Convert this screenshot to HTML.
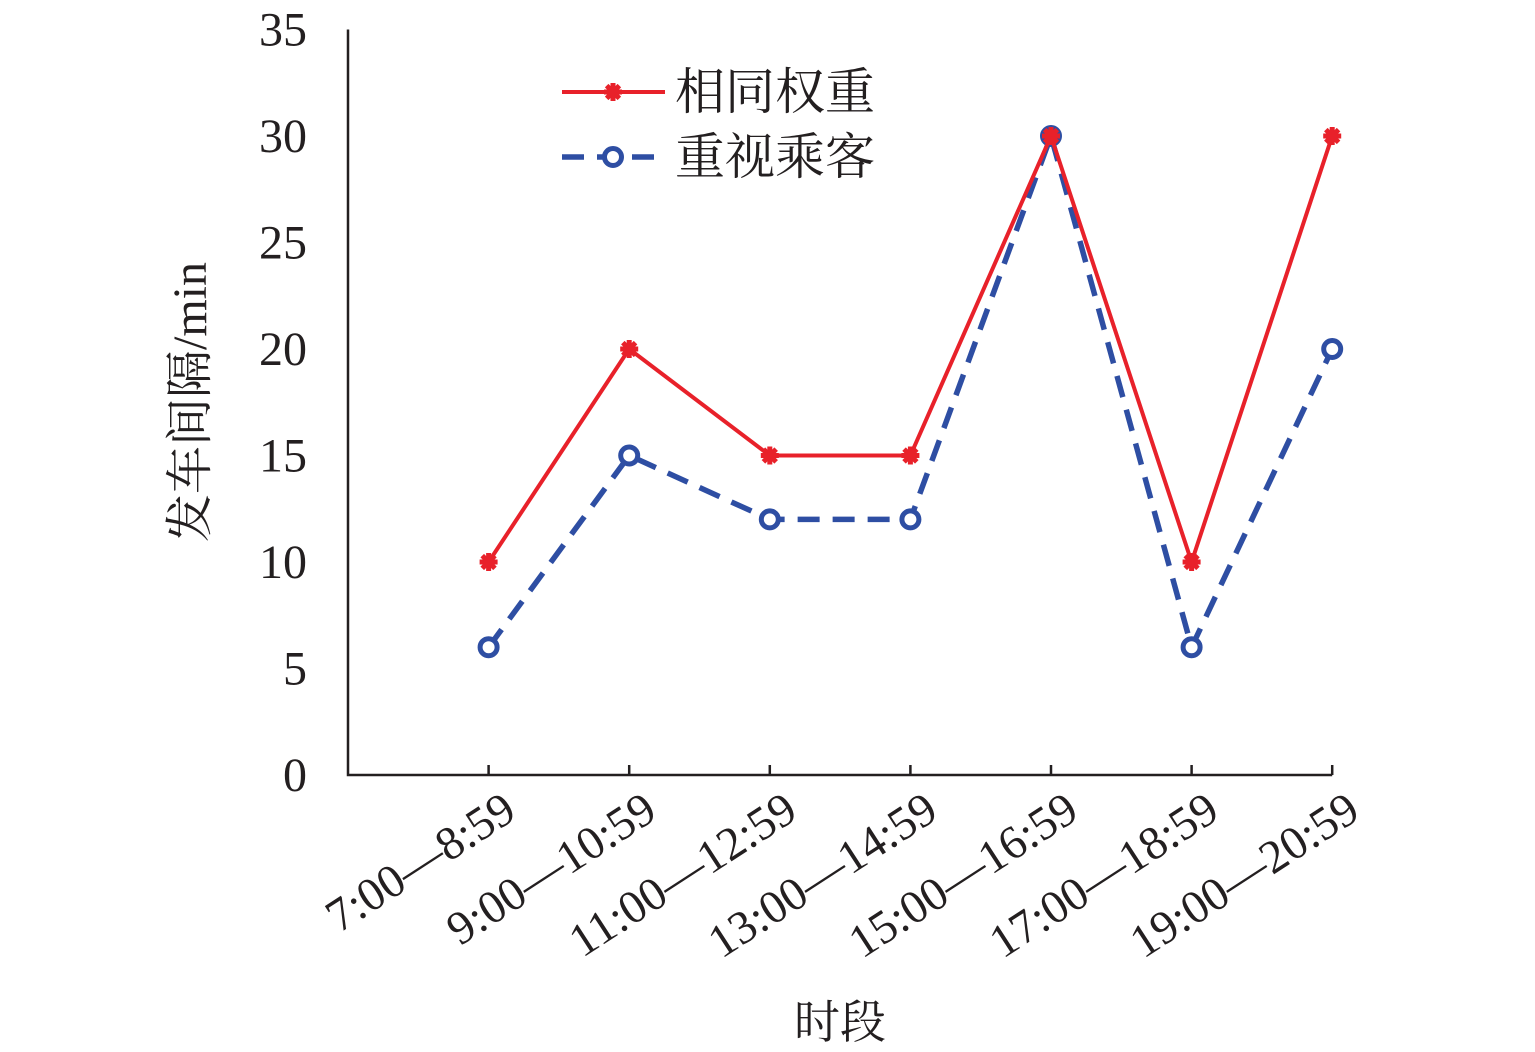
<!DOCTYPE html>
<html><head><meta charset="utf-8"><style>
body{margin:0;background:#fff}
svg text{font-family:"Liberation Serif","Noto Serif CJK SC",serif;fill:#231f20}
</style></head><body>
<svg id="c" width="1535" height="1047"></svg>
<script>
const categories=["7:00—8:59","9:00—10:59","11:00—12:59","13:00—14:59","15:00—16:59","17:00—18:59","19:00—20:59"];
const sameWeight=[10,20,15,15,30,10,30];
const passengerFocus=[6,15,12,12,30,6,20];
const yTicks=[0,5,10,15,20,25,30,35];
const NS="http://www.w3.org/2000/svg",svg=document.getElementById('c');
const x0=348,y0=775,step=140.6,pxPerUnit=21.3;
const X=i=>x0+(i+1)*step, Y=v=>y0-v*pxPerUnit;
function mk(t,a,p){const e=document.createElementNS(NS,t);for(const k in a)e.setAttribute(k,a[k]);(p||svg).appendChild(e);return e;}
let ax=mk('path',{d:`M${x0} ${Y(35)}V${y0}H${X(6)}`,fill:'none',stroke:'#231f20','stroke-width':2.5});


yTicks.forEach(v=>{let t=mk('text',{x:307,y:Y(v)+16,'text-anchor':'end','font-size':48});t.textContent=v;

});
categories.forEach((c,i)=>{let tk=mk('line',{x1:X(i),x2:X(i),y1:y0,y2:y0-10,stroke:'#231f20','stroke-width':2.5});


let t=mk('text',{transform:`translate(${X(i)+30},${y0+42}) rotate(-33)`,'text-anchor':'end','font-size':47});t.textContent=c;

});
let yt=mk('text',{transform:'translate(206,402) rotate(-90)','text-anchor':'middle','font-size':48});yt.textContent='发车间隔/min';


let xt=mk('text',{x:840,y:1038,'text-anchor':'middle','font-size':46});xt.textContent='时段';


function star(g,x,y){for(let a=0;a<180;a+=45){const r=a*Math.PI/180;mk('line',{x1:x-9*Math.cos(r),y1:y-9*Math.sin(r),x2:x+9*Math.cos(r),y2:y+9*Math.sin(r),stroke:'#e8212a','stroke-width':5},g);}}
function circ(g,x,y){mk('circle',{cx:x,cy:y,r:8.5,fill:'#fff',stroke:'#2e4ea3','stroke-width':5},g);}
let gb=mk('g',{});
mk('polyline',{points:passengerFocus.map((v,i)=>X(i)+','+Y(v)).join(' '),fill:'none',stroke:'#2e4ea3','stroke-width':5.5,'stroke-dasharray':'22 13'},gb);
passengerFocus.forEach((v,i)=>circ(gb,X(i),Y(v)));
let gr=mk('g',{});
mk('polyline',{points:sameWeight.map((v,i)=>X(i)+','+Y(v)).join(' '),fill:'none',stroke:'#e8212a','stroke-width':4},gr);
sameWeight.forEach((v,i)=>star(gr,X(i),Y(v)));
let lg=mk('g',{});
mk('line',{x1:562,x2:665,y1:92,y2:92,stroke:'#e8212a','stroke-width':4},lg);star(lg,613,92);
mk('line',{x1:562,x2:665,y1:157,y2:157,stroke:'#2e4ea3','stroke-width':5.5,'stroke-dasharray':'22 13'},lg);circ(lg,613,157);
let l1=mk('text',{x:675,y:109,'font-size':50},lg);l1.textContent='相同权重';
let l2=mk('text',{x:675,y:174,'font-size':50},lg);l2.textContent='重视乘客';
</script>
</body></html>
